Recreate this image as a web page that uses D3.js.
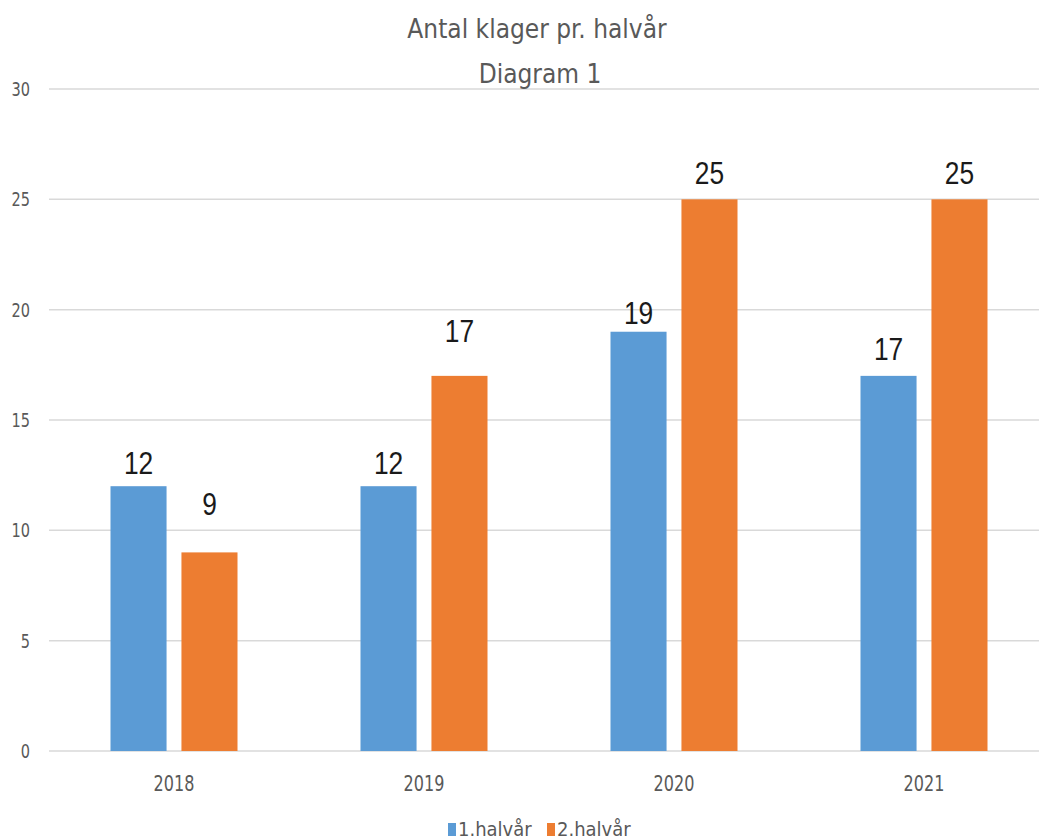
<!DOCTYPE html>
<html lang="da">
<head>
    <meta charset="utf-8" />
    <script src="https://d3js.org/d3.v7.min.js"></script>
    <style>
        body { margin: 0; background: #fff; }
        text { font-family: "DejaVu Sans Condensed", sans-serif; font-stretch: condensed; }
        text.val { font-family: "Liberation Sans", Arial, sans-serif; font-stretch: normal; }
    </style>
</head>
<body>
    <script>
        var years = ["2018", "2019", "2020", "2021"];
        var seriesNames = ["1.halvår", "2.halvår"];
        var firstHalf = [12, 12, 19, 17];
        var secondHalf = [9, 17, 25, 25];
        var yTicks = [0, 5, 10, 15, 20, 25, 30];
        var colors = ["#5b9bd5", "#ed7d31"];
        // afstand fra søjletop til tal (labels er flyttet manuelt i originalen)
        var labelGap = [[12, 12, 8, 16], [37, 34, 15, 15]];

        var width = 1039, height = 840;
        var plotLeft = 49, plotRight = 1049, plotTop = 89, plotBottom = 751;

        var svg = d3.select("body").append("svg")
            .attr("width", width)
            .attr("height", height);

        var x = d3.scaleBand().domain(years).range([plotLeft, plotRight]);
        var x1 = d3.scaleBand().domain(seriesNames).range([0, 127]).paddingInner(0.21);
        var y = d3.scaleLinear().domain([0, 30]).range([plotBottom, plotTop]);

        function squeeze(px, py, sx) {
            return "translate(" + px + "," + py + ") scale(" + sx + ",1)";
        }

        // gitterlinjer
        svg.append("g").selectAll("line")
            .data(yTicks)
            .join("line")
            .attr("x1", plotLeft).attr("x2", width)
            .attr("y1", function (d) { return y(d); })
            .attr("y2", function (d) { return y(d); })
            .attr("stroke", "#d9d9d9")
            .attr("stroke-width", 1.5);

        // y-akse tal
        svg.append("g").selectAll("text")
            .data(yTicks)
            .join("text")
            .attr("transform", function (d) { return squeeze(30, y(d) + 7, 0.85); })
            .attr("text-anchor", "end")
            .attr("fill", "#595959")
            .attr("font-size", 19)
            .text(function (d) { return d; });

        var rows = years.map(function (yr, i) {
            return { year: yr, i: i, values: [firstHalf[i], secondHalf[i]] };
        });

        var groups = svg.append("g").selectAll("g")
            .data(rows)
            .join("g")
            .attr("transform", function (d) {
                return "translate(" + (x(d.year) + x.bandwidth() / 2 - 63.5) + ",0)";
            });

        function cells(d) {
            return d.values.map(function (v, j) {
                return { s: seriesNames[j], v: v, j: j, gap: labelGap[j][d.i] };
            });
        }

        groups.selectAll("rect")
            .data(cells)
            .join("rect")
            .attr("x", function (d) { return x1(d.s); })
            .attr("width", x1.bandwidth())
            .attr("y", function (d) { return y(d.v); })
            .attr("height", function (d) { return y(0) - y(d.v); })
            .attr("fill", function (d) { return colors[d.j]; });

        groups.selectAll("text.val")
            .data(cells)
            .join("text")
            .attr("class", "val")
            .attr("transform", function (d) {
                return squeeze(x1(d.s) + x1.bandwidth() / 2, y(d.v) - d.gap, 0.85);
            })
            .attr("text-anchor", "middle")
            .attr("fill", "#1a1a1a")
            .attr("font-size", 31)
            .text(function (d) { return d.v; });

        // x-akse år
        svg.append("g").selectAll("text")
            .data(years)
            .join("text")
            .attr("transform", function (d) { return squeeze(x(d) + x.bandwidth() / 2, 791, 0.85); })
            .attr("text-anchor", "middle")
            .attr("fill", "#595959")
            .attr("font-size", 21)
            .text(function (d) { return d; });

        // titel
        svg.append("text")
            .attr("x", 537).attr("y", 38)
            .attr("text-anchor", "middle")
            .attr("fill", "#595959")
            .attr("font-size", 26)
            .text("Antal klager pr. halvår");
        svg.append("text")
            .attr("x", 540).attr("y", 83)
            .attr("text-anchor", "middle")
            .attr("fill", "#595959")
            .attr("font-size", 26)
            .text("Diagram 1");

        // signatur
        var legendX = [448, 547];
        var legend = svg.append("g").selectAll("g")
            .data(seriesNames)
            .join("g")
            .attr("transform", function (d, i) { return "translate(" + legendX[i] + ",823)"; });
        legend.append("rect")
            .attr("width", 8).attr("height", 13)
            .attr("fill", function (d, i) { return colors[i]; });
        legend.append("text")
            .attr("x", 10).attr("y", 13)
            .attr("fill", "#595959")
            .attr("font-size", 20)
            .text(function (d) { return d; });
    </script>
</body>
</html>
